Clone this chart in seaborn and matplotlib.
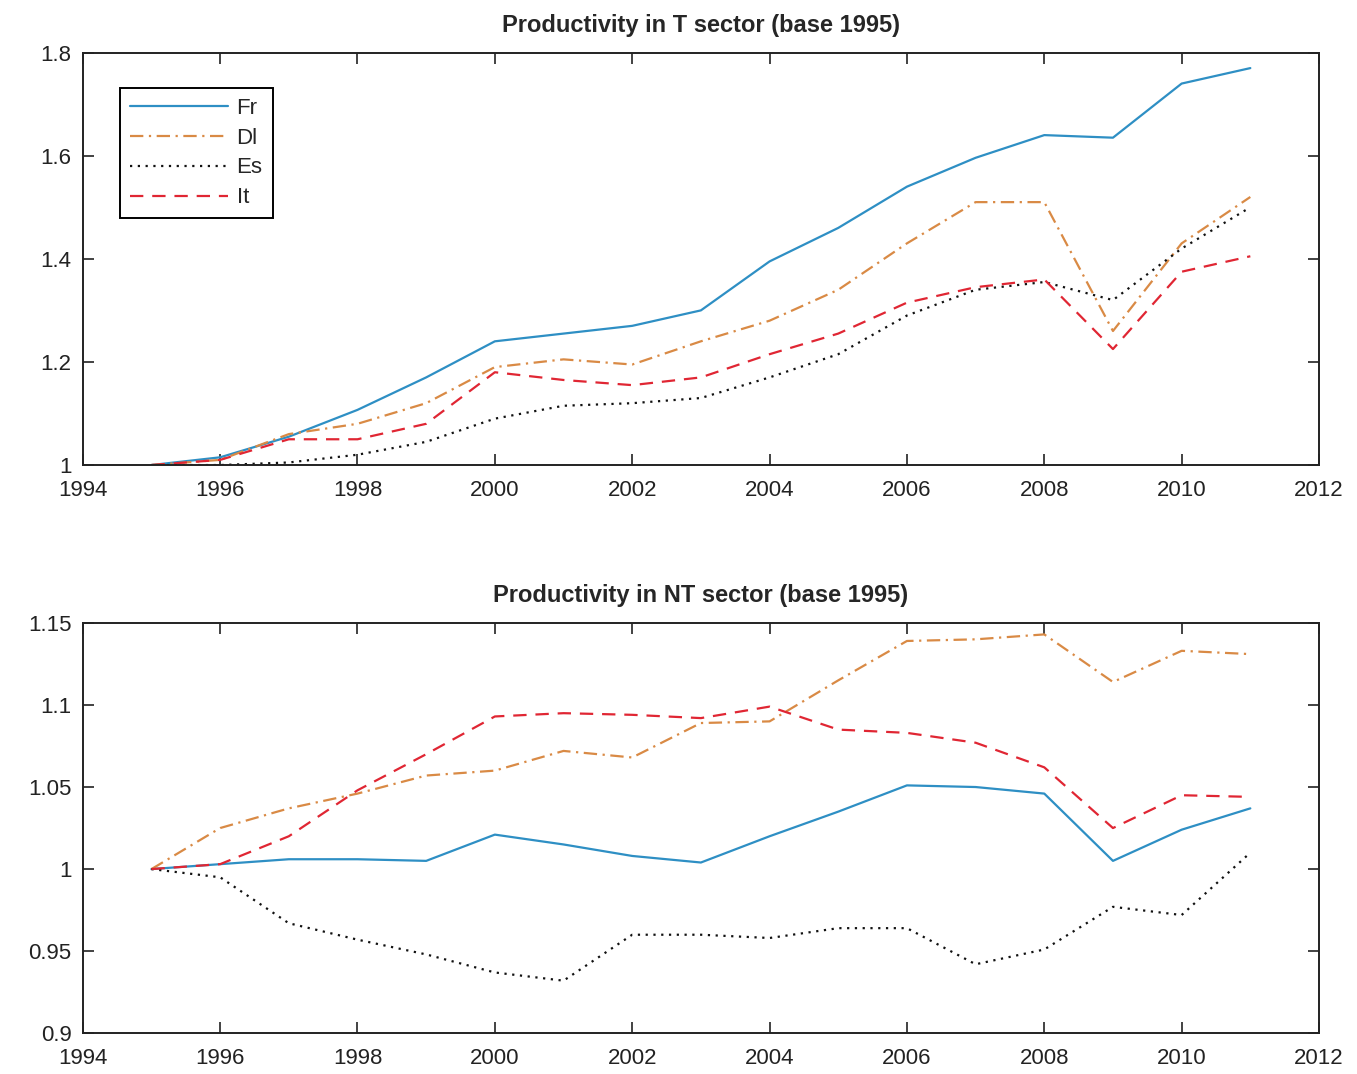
import numpy as np
import pandas as pd
import matplotlib
matplotlib.use("Agg")
import matplotlib.pyplot as plt
from matplotlib.ticker import FuncFormatter
import seaborn as sns

years = list(range(1995, 2012))
countries = ["Fr", "Dl", "Es", "It"]

# Productivity in T sector (base 1995)
t_fr = [1.0, 1.015, 1.055, 1.107, 1.17, 1.24, 1.255, 1.27, 1.30, 1.395, 1.46, 1.54, 1.596, 1.64, 1.635, 1.74, 1.77]
t_dl = [1.0, 1.01, 1.06, 1.08, 1.12, 1.19, 1.205, 1.195, 1.24, 1.28, 1.34, 1.43, 1.51, 1.51, 1.26, 1.43, 1.52]
t_es = [1.0, 1.0, 1.005, 1.02, 1.045, 1.09, 1.115, 1.12, 1.13, 1.17, 1.215, 1.29, 1.34, 1.355, 1.32, 1.42, 1.50]
t_it = [1.0, 1.01, 1.05, 1.05, 1.08, 1.18, 1.165, 1.155, 1.17, 1.215, 1.255, 1.315, 1.345, 1.36, 1.225, 1.375, 1.405]

# Productivity in NT sector (base 1995)
nt_fr = [1.0, 1.003, 1.006, 1.006, 1.005, 1.021, 1.015, 1.008, 1.004, 1.02, 1.035, 1.051, 1.05, 1.046, 1.005, 1.024, 1.037]
nt_dl = [1.0, 1.025, 1.037, 1.046, 1.057, 1.06, 1.072, 1.068, 1.089, 1.09, 1.115, 1.139, 1.14, 1.143, 1.114, 1.133, 1.131]
nt_es = [1.0, 0.995, 0.967, 0.957, 0.948, 0.937, 0.932, 0.96, 0.96, 0.958, 0.964, 0.964, 0.942, 0.951, 0.977, 0.972, 1.01]
nt_it = [1.0, 1.003, 1.02, 1.048, 1.07, 1.093, 1.095, 1.094, 1.092, 1.099, 1.085, 1.083, 1.077, 1.062, 1.025, 1.045, 1.044]

t_ticks = [1.0, 1.2, 1.4, 1.6, 1.8]
nt_ticks = [0.9, 0.95, 1.0, 1.05, 1.1, 1.15]


def to_long(series):
    frames = []
    for name, vals in zip(countries, series):
        frames.append(pd.DataFrame({"year": years, "value": vals, "country": name}))
    return pd.concat(frames, ignore_index=True)


df_t = to_long([t_fr, t_dl, t_es, t_it])
df_nt = to_long([nt_fr, nt_dl, nt_es, nt_it])

sns.set_style("ticks")
plt.rcParams["font.family"] = ["Liberation Sans", "DejaVu Sans"]

palette = {"Fr": "#2e8fc4", "Dl": "#d98a45", "Es": "#111111", "It": "#e02633"}
dashes = {"Fr": "", "Dl": (6, 2.5, 1, 2.5), "Es": (1, 2.5), "It": (6, 4)}

fig = plt.figure(figsize=(13.57, 10.74), dpi=100)
ax1 = fig.add_axes([0.061, 0.567, 0.911, 0.384])
ax2 = fig.add_axes([0.061, 0.038, 0.911, 0.382])


def fmt(v, pos):
    return "%g" % round(v, 3)


for ax, df, ticks, title in [(ax1, df_t, t_ticks, "Productivity in T sector (base 1995)"),
                             (ax2, df_nt, nt_ticks, "Productivity in NT sector (base 1995)")]:
    sns.lineplot(data=df, x="year", y="value", hue="country", style="country",
                 palette=palette, dashes=dashes, linewidth=1.6, ax=ax, legend=(ax is ax1))
    ax.set_xlim(1994, 2012)
    ax.set_ylim(ticks[0], ticks[-1])
    ax.set_xticks(range(1994, 2013, 2))
    ax.set_yticks(ticks)
    ax.yaxis.set_major_formatter(FuncFormatter(fmt))
    ax.tick_params(direction="in", top=True, right=True, length=8, width=1.2,
                   labelsize=16, colors="#222222")
    ax.tick_params(axis="x", pad=11)
    ax.tick_params(axis="y", pad=8)
    for s in ax.spines.values():
        s.set_linewidth(1.4)
        s.set_color("#222222")
    ax.set_xlabel("")
    ax.set_ylabel("")
    ax.set_title(title, fontsize=17, fontweight="bold", pad=15)

leg = ax1.legend(loc="upper left", bbox_to_anchor=(0.030, 0.915), borderaxespad=0,
                 fontsize=16, handlelength=4.4, frameon=True, fancybox=False,
                 edgecolor="black", framealpha=1, borderpad=0.45, labelspacing=0.4,
                 handletextpad=0.4)
leg.get_frame().set_linewidth(1.4)

fig.savefig("out.png", dpi=100)
